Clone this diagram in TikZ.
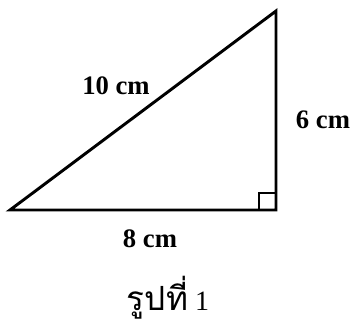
\documentclass[tikz,border=0pt]{standalone}
\usepackage{fontspec}
\setmainfont{Liberation Serif}
\newfontfamily\thaifont[Script=Thai]{Loma}
\usetikzlibrary{positioning}

\begin{document}
\begin{tikzpicture}[
    x=0.75pt, y=-0.75pt,
    side/.style={line width=2.2pt, line join=miter},
    rightmark/.style={line width=1.8pt},
    len/.style={font=\bfseries\fontsize{20}{22}\selectfont, inner sep=0pt},
    caption/.style={font=\fontsize{21}{24}\selectfont, inner sep=0pt, anchor=base}
]
\useasboundingbox (0,0) rectangle (353,324);
% corners of the triangle
\coordinate (A) at (10,210);
\coordinate (B) at (276,210);
\coordinate (C) at (276,11);
\draw[side] (A) -- (B) -- (C) -- cycle;
\draw[rightmark] ([xshift=-17*0.75pt]B) |- ([yshift=17*0.75pt]B);
% side lengths
\node[len] (hyp) at (116,86) {10 cm};
\node[len] (ver) at (323,120) {6 cm};
\node[len] (hor) at (150,239) {8 cm};
\node[caption] (cap) at (168,310) {{\thaifont\fontsize{25}{28}\selectfont รูปที่} 1};
\end{tikzpicture}
\end{document}
